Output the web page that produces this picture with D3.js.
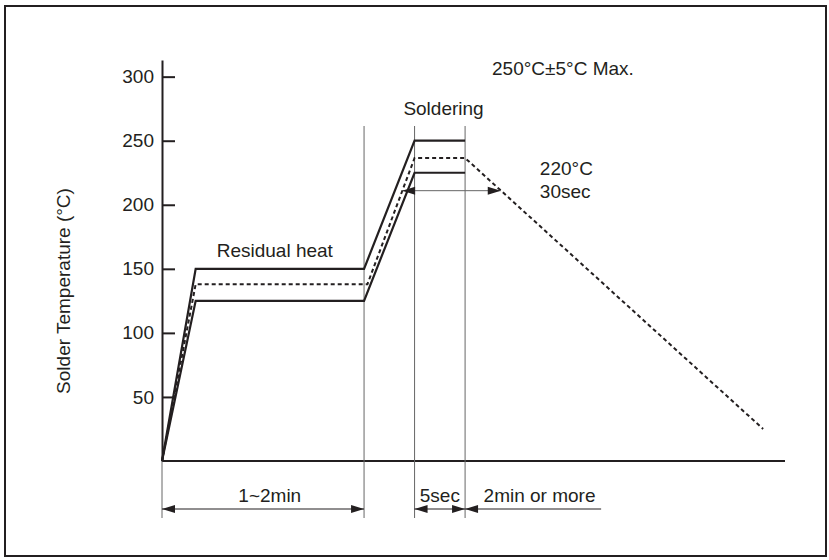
<!DOCTYPE html>
<html>
<head>
<meta charset="utf-8">
<script src="https://cdn.jsdelivr.net/npm/d3@7"></script>
<style>
  body { margin: 0; background: #fff; }
  text { font-family: "Liberation Sans", Arial, sans-serif; fill: #231f20; }
</style>
</head>
<body>
<div class="main"></div>
<script>
// profile data (time in arbitrary units, temperature in degC)
var upperT = [0, 10, 60, 75, 90],
    upperV = [0, 150, 150, 250, 250];
var lowerT = [0, 10, 60, 75, 90],
    lowerV = [0, 125, 125, 225, 225];
var nominalT = [0, 10, 61, 75, 90, 178.5],
    nominalV = [0, 138, 138, 236.5, 236.5, 25];
var yTicks = [50, 100, 150, 200, 250, 300];
var phaseT = [60, 75, 90];              // vertical divider lines
var spanLabels = ['1~2min', '5sec', '2min or more'];

var width = 829, height = 560;

var svg = d3.select('.main').append('svg')
    .attr('width', width)
    .attr('height', height);

// scales
var x = d3.scaleLinear().domain([0, 185]).range([162, 785]);
var y = d3.scaleLinear().domain([0, 313]).range([461, 60]);

var ink = '#231f20', thin = '#666';

// frame
svg.append('rect')
    .attr('x', 5).attr('y', 6)
    .attr('width', 821).attr('height', 550)
    .attr('fill', 'none')
    .attr('stroke', ink)
    .attr('stroke-width', 2);

// y axis
var yAxis = svg.append('g')
    .attr('transform', 'translate(' + x(0) + ',0)')
    .call(d3.axisLeft(y)
        .tickValues(yTicks)
        .tickSizeInner(-13)
        .tickSizeOuter(0)
        .tickPadding(8));
yAxis.select('path').attr('stroke', ink).attr('stroke-width', 2);
yAxis.selectAll('.tick line').attr('stroke', ink).attr('stroke-width', 2);
yAxis.selectAll('.tick text')
    .attr('font-size', 19)
    .attr('font-family', '"Liberation Sans", Arial, sans-serif')
    .attr('fill', ink);

// x axis line
svg.append('line')
    .attr('x1', x(0)).attr('x2', x(185))
    .attr('y1', y(0)).attr('y2', y(0))
    .attr('stroke', ink).attr('stroke-width', 2);

// y title
svg.append('text')
    .attr('transform', 'translate(70,' + 291 + ') rotate(-90)')
    .attr('text-anchor', 'middle')
    .attr('font-size', 19)
    .text('Solder Temperature (°C)');

// vertical divider lines
var dimY = 509, extBottom = 518;
svg.selectAll('.divider').data(phaseT).enter().append('line')
    .attr('x1', d => x(d)).attr('x2', d => x(d))
    .attr('y1', 126).attr('y2', extBottom)
    .attr('stroke', thin).attr('stroke-width', 1);
svg.append('line')
    .attr('x1', x(0)).attr('x2', x(0))
    .attr('y1', y(0)).attr('y2', extBottom)
    .attr('stroke', thin).attr('stroke-width', 1);

// profile lines
function pts(ts, vs) { return ts.map((t, i) => [t, vs[i]]); }
var line = d3.line().x(d => x(d[0])).y(d => y(d[1]));

svg.append('path').datum(pts(upperT, upperV))
    .attr('d', line).attr('fill', 'none')
    .attr('stroke', ink).attr('stroke-width', 2.2).attr('stroke-linejoin', 'miter');
svg.append('path').datum(pts(lowerT, lowerV))
    .attr('d', line).attr('fill', 'none')
    .attr('stroke', ink).attr('stroke-width', 2.2).attr('stroke-linejoin', 'miter');
svg.append('path').datum(pts(nominalT, nominalV))
    .attr('d', line).attr('fill', 'none')
    .attr('stroke', ink).attr('stroke-width', 2)
    .attr('stroke-dasharray', '4,3');

// arrowhead helper: tip at (px,py), dir -1 points left, +1 points right
function arrow(px, py, dir) {
    var len = 13, hw = 4;
    svg.append('path')
        .attr('d', 'M' + px + ',' + py +
                   'L' + (px - dir * len) + ',' + (py - hw) +
                   'L' + (px - dir * len) + ',' + (py + hw) + 'Z')
        .attr('fill', ink);
}

// 220C / 30sec span
var holdV = 211, holdT0 = 71.3, holdT1 = 100.6;
svg.append('line')
    .attr('x1', x(holdT0)).attr('x2', x(holdT1))
    .attr('y1', y(holdV)).attr('y2', y(holdV))
    .attr('stroke', thin).attr('stroke-width', 1);
arrow(x(holdT0), y(holdV), -1);
arrow(x(holdT1), y(holdV), 1);

// bottom dimension lines
var spans = [[0, 60], [75, 90], [90, 130.4]];
spans.forEach(function(s, i) {
    svg.append('line')
        .attr('x1', x(s[0])).attr('x2', x(s[1]))
        .attr('y1', dimY).attr('y2', dimY)
        .attr('stroke', ink).attr('stroke-width', 1.2);
    arrow(x(s[0]), dimY, -1);
    if (i < 2) arrow(x(s[1]), dimY, 1);
});

var spanLabelT = [32, 82.5, 95.5],
    spanAnchor = ['middle', 'middle', 'start'];
svg.selectAll('.span-label').data(spanLabels).enter().append('text')
    .attr('x', (d, i) => x(spanLabelT[i]))
    .attr('y', 502)
    .attr('text-anchor', (d, i) => spanAnchor[i])
    .attr('font-size', 19)
    .text(d => d);

// annotations
function note(t, v, str, anchor) {
    svg.append('text')
        .attr('x', x(t)).attr('y', y(v))
        .attr('text-anchor', anchor || 'start')
        .attr('font-size', 19)
        .text(str);
}
note(98, 301, '250°C±5°C Max.');
note(83.6, 270, 'Soldering', 'middle');
note(112.2, 223, '220°C');
note(112.2, 205, '30sec');
note(33.5, 159, 'Residual heat', 'middle');
</script>
</body>
</html>
